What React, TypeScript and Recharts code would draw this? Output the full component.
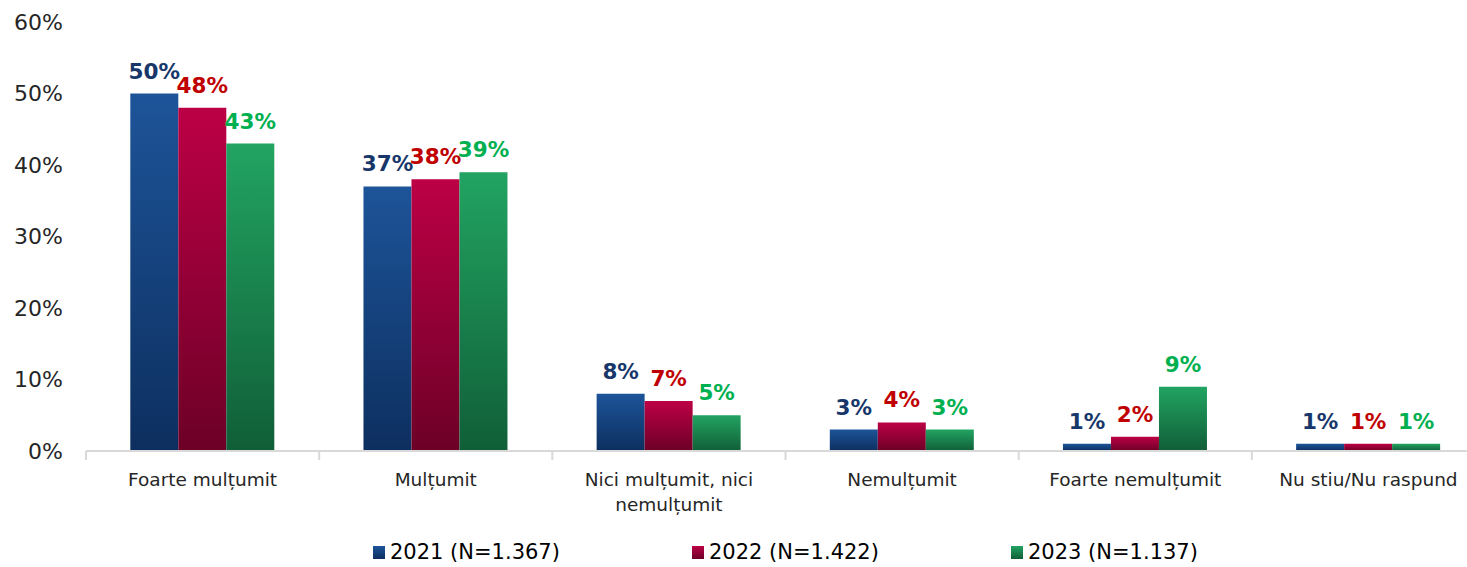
import { Bar, BarChart, LabelList, Legend, XAxis, YAxis } from "recharts";

const categories = [
  "Foarte mulțumit",
  "Mulțumit",
  "Nici mulțumit, nici\nnemulțumit",
  "Nemulțumit",
  "Foarte nemulțumit",
  "Nu stiu/Nu raspund",
];
const values2021 = [50, 37, 8, 3, 1, 1];
const values2022 = [48, 38, 7, 4, 2, 1];
const values2023 = [43, 39, 5, 3, 9, 1];
const yTicks = [0, 10, 20, 30, 40, 50, 60];
const seriesNames = ["2021 (N=1.367)", "2022 (N=1.422)", "2023 (N=1.137)"];

const data = categories.map((name, i) => ({
  name,
  y2021: values2021[i],
  y2022: values2022[i],
  y2023: values2023[i],
}));

const series = [
  { key: "y2021", grad: "gBlue", top: "#1D5499", bottom: "#0D2F5F", label: "#17376B" },
  { key: "y2022", grad: "gRed", top: "#BC0045", bottom: "#6C0026", label: "#C00000" },
  { key: "y2023", grad: "gGreen", top: "#22A462", bottom: "#105E37", label: "#00B050" },
];

const FONT = "Tahoma, 'DejaVu Sans', Verdana, sans-serif";

function CategoryTick(props: any) {
  const { x, y, payload, index } = props;
  const lines = String(payload.value).split("\n");
  const half = payload.offset ?? 0;
  return (
    <g>
      <line x1={x - half} x2={x - half} y1={y} y2={y + 9} stroke="#D9D9D9" strokeWidth={2} />
      {index === categories.length - 1 && (
        <line x1={x + half} x2={x + half} y1={y} y2={y + 9} stroke="#D9D9D9" strokeWidth={2} />
      )}
      <text x={x} y={y} textAnchor="middle" fill="#262626" fontSize={18.5}>
        {lines.map((l, i) => (
          <tspan key={i} x={x} dy={i === 0 ? 35 : 25}>
            {l}
          </tspan>
        ))}
      </text>
    </g>
  );
}

function LegendContent() {
  return (
    <div style={{ display: "flex", fontFamily: FONT, fontSize: 21, color: "#000", lineHeight: "24px" }}>
      {series.map((s, i) => (
        <div key={s.key} style={{ width: 319, display: "flex", alignItems: "center" }}>
          <span
            style={{
              display: "inline-block",
              width: 12,
              height: 13,
              background: `linear-gradient(${s.top}, ${s.bottom})`,
            }}
          />
          <span style={{ marginLeft: 5 }}>{seriesNames[i]}</span>
        </div>
      ))}
    </div>
  );
}

export default function App() {
  return (
    <div style={{ position: "absolute", left: 0, top: 0, width: 1467, height: 567, overflow: "hidden", background: "#fff", fontFamily: FONT }}>
      <BarChart
        width={1490}
        height={567}
        data={data}
        margin={{ top: 22, right: 5, left: 0, bottom: 0 }}
        barCategoryGap="19%"
        barGap={0}
      >
        <defs>
          {series.map((s) => (
            <linearGradient key={s.grad} id={s.grad} x1="0" y1="0" x2="0" y2="1">
              <stop offset="0%" stopColor={s.top} />
              <stop offset="100%" stopColor={s.bottom} />
            </linearGradient>
          ))}
        </defs>
        <XAxis
          dataKey="name"
          height={116}
          tickLine={false}
          tickSize={0}
          tickMargin={0}
          axisLine={{ stroke: "#D9D9D9", strokeWidth: 2 }}
          interval={0}
          tick={<CategoryTick />}
        />
        <YAxis
          width={86}
          domain={[0, 60]}
          ticks={yTicks}
          tickFormatter={(v: number) => `${v}%`}
          axisLine={false}
          tickLine={false}
          tickSize={0}
          tickMargin={23}
          tick={{ fill: "#262626", fontSize: 22 }}
        />
        <Legend
          layout="horizontal"
          verticalAlign="middle"
          align="center"
          content={<LegendContent />}
          wrapperStyle={{ left: 373, top: 540, width: "auto" }}
        />
        {series.map((s, i) => (
          <Bar key={s.key} dataKey={s.key} name={seriesNames[i]} fill={`url(#${s.grad})`} isAnimationActive={false}>
            <LabelList
              dataKey={s.key}
              position="top"
              offset={15}
              formatter={(v: any) => `${v}%`}
              fill={s.label}
              fontSize={21.5}
              fontWeight="bold"
            />
          </Bar>
        ))}
      </BarChart>
    </div>
  );
}
